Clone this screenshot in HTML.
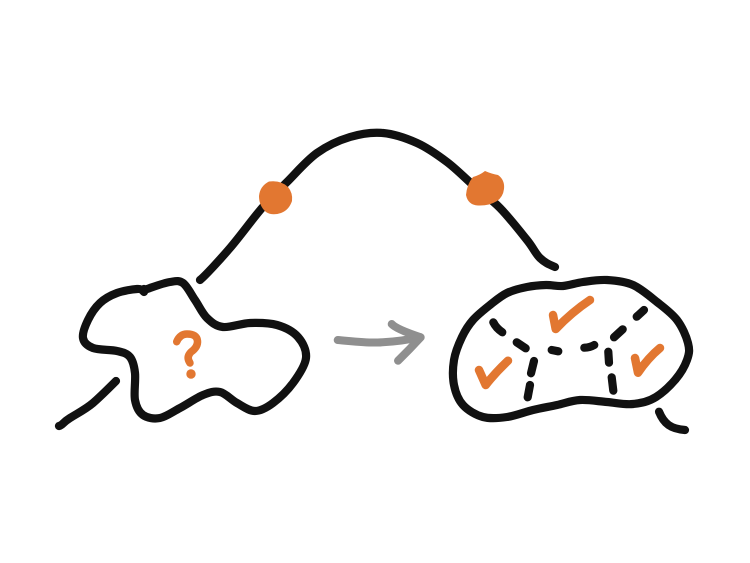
<!DOCTYPE html>
<html>
<head>
<meta charset="utf-8">
<style>
html,body{margin:0;padding:0;background:#fff;}
svg{display:block;}
</style>
</head>
<body>
<svg width="750" height="563" viewBox="0 0 750 563" xmlns="http://www.w3.org/2000/svg" fill="none" stroke-linecap="round" stroke-linejoin="round">
<rect width="750" height="563" fill="#fff"/>
<g stroke="#111" stroke-width="8.2">
<!-- left blob -->
<path d="M144,292 C142,290 141.500,288.700 137,289 S123.200,290.700 117,293 S104.800,298.500 100,303 S90.800,314.200 88,320 S82.200,333.300 83,338 S87.300,345.800 93,348 S110.800,349.500 117,351 S127,353.300 130,357 S134.200,365.800 135,373 S133.700,393 135,400 S138.800,412 143,415 S153.800,419.200 160,418 S172.800,411.800 180,408 S196.300,397.700 203,395 S214.300,390.700 220,392 S231.200,399.800 237,403 S249,411 255,411 S266.700,407.700 273,403 S287.500,390.500 293,383 S305.200,365.700 306,358 S302.800,342.500 298,337 S285,327.300 277,325 S259,322.700 250,323 S230.200,327.800 223,327 S211.700,322.500 207,318 S199,305.800 195,300 S187.200,286 183,283 S175.500,281.200 170,282 S154.300,286.500 150,288 S146,289.500 144,289"/>
<!-- left tail -->
<path d="M116,381 C108,389 100,397 93,403 S78,413 70,418 S63,425 59,426"/>
<!-- right blob -->
<path d="M546,285 C540,285.200 533.500,285.700 527,287 S513.200,290 507,293 S495.700,300.500 490,305 S477.700,314.700 473,320 S465.200,330.300 462,337 S455.300,352 454,360 S452.500,377.500 454,385 S458.200,399.700 463,405 S475.700,415 483,417 S498.700,418.200 507,417 S524.700,412 533,410 S549.200,406.700 557,405 S571.700,400.500 580,400 S598.200,401.300 607,402 S624.700,405 633,404 S648,402 656,397 S669,387 675,380 S684.500,367 687,360 S689.700,349.700 688,343 S682.200,326.800 677,320 S664.300,307.800 657,302 S641.300,288.700 633,285 S615.300,280.500 607,280 S590.300,281 583,282 S569.200,285.500 563,286 S552,284.800 546,285 Z"/>
<!-- right dashes -->
<path d="M493.300,322.300 Q496,328 502.300,332.300"/>
<path d="M516.700,342.300 L525.700,348.300"/>
<path d="M551.700,350 L558.300,351.300"/>
<path d="M584.300,347.700 Q590,347.500 594.300,345"/>
<path d="M614,337.300 L622.700,329.300"/>
<path d="M636.700,316.700 L644,310"/>
<path d="M608.300,351.700 L609,362.700"/>
<path d="M611.700,377.300 L613.300,390.700"/>
<path d="M534,361 L531,373.300"/>
<path d="M530,385 L527.700,397.300"/>
<!-- right tail -->
<path d="M659,411.700 C664,424 671,429 685,430"/>
<!-- arc -->
<path d="M200,280 C205,276 219.700,260 230,248 S252.500,219 262,208 S277.800,191.200 287,182 S306.500,160.500 317,153 S339,140.300 350,137 S371.800,132 383,133 S406.300,138.200 417,143 S437.700,155 447,162 S464.200,177.300 473,185 S491,198.800 500,208 S520.300,231.700 527,240 S535.300,253.500 540,258 S548,264 555,267"/>
</g>
<!-- orange dots -->
<g fill="#e27731">
<path d="M269,181.500 Q281,180 288,187 Q293,193 292,201 Q289,210 281,213 Q272,216 266,212 Q259,206 259,196 Q260,186 269,181.500 Z"/>
<path d="M485,171 Q492,174 498,175 Q505,180 504,189 Q503,197 497,201 Q489,206 478,205.500 Q468,205 466,195 Q467,184 473,177 Q480,175 485,171 Z"/>
</g>
<!-- gray arrow -->
<g stroke="#8f8f8f" stroke-width="8">
<path d="M337.700,340 C350,341 365,343 378,342.500 S408,340 420,337"/>
<path d="M391.700,324 Q396,329 420.700,337.300 Q410,349 398,360.700"/>
</g>
<!-- question mark and checks -->
<g stroke="#e27731">
<path d="M176.700,341.700 Q180,334 187,334 Q197,334 197.500,341 Q198,347 191,352 Q186,357 190,363" stroke-width="7.500"/>
<path d="M553,315 L555.700,329 Q572,312 590,300" stroke-width="8.500"/>
<path d="M479,370 L485.700,385 Q495,373 508,360.700" stroke-width="8.500"/>
<path d="M635,358 L638,372.700 Q648,358 660,348" stroke-width="8.500"/>
</g>
<circle cx="191" cy="374" r="4.700" fill="#e27731"/>
</svg>
</body>
</html>
